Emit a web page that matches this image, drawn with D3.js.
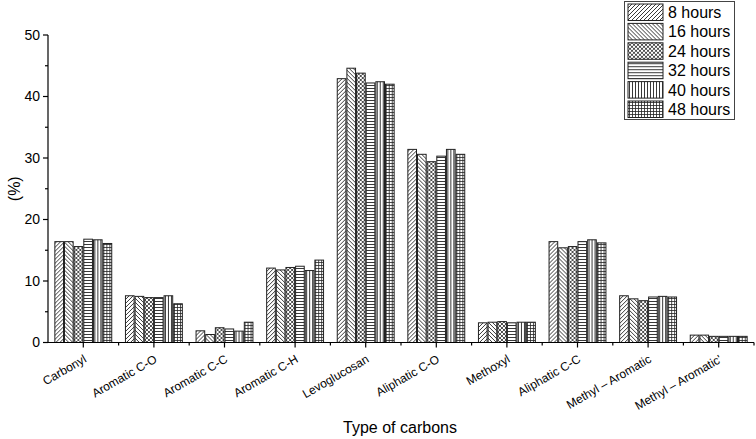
<!DOCTYPE html>
<html>
<head>
<meta charset="utf-8">
<script src="https://cdn.jsdelivr.net/npm/d3@7/dist/d3.min.js"></script>
<style>
  body { margin: 0; background: #fff; }
  svg { font-family: "Liberation Sans", Arial, sans-serif; }
</style>
</head>
<body>
<svg id="chart"></svg>
<script>
// 数据
const categories = ['Carbonyl', 'Aromatic C-O', 'Aromatic C-C', 'Aromatic C-H', 'Levoglucosan',
  'Aliphatic C-O', 'Methoxyl', 'Aliphatic C-C', 'Methyl \u2013 Aromatic', "Methyl \u2013 Aromatic'"];
const seriesNames = ['8 hours', '16 hours', '24 hours', '32 hours', '40 hours', '48 hours'];

const h8  = [16.4, 7.6, 1.9, 12.1, 42.9, 31.4, 3.2, 16.4, 7.6, 1.2];
const h16 = [16.4, 7.5, 1.3, 11.8, 44.6, 30.6, 3.3, 15.4, 7.1, 1.2];
const h24 = [15.6, 7.3, 2.4, 12.2, 43.8, 29.4, 3.4, 15.6, 6.8, 1.0];
const h32 = [16.8, 7.3, 2.2, 12.4, 42.2, 30.3, 3.2, 16.4, 7.4, 1.0];
const h40 = [16.7, 7.6, 1.85, 11.7, 42.4, 31.4, 3.3, 16.7, 7.5, 1.0];
const h48 = [16.1, 6.3, 3.3, 13.4, 42.0, 30.6, 3.3, 16.2, 7.4, 1.0];
const series = [h8, h16, h24, h32, h40, h48];

const yTicks = [0, 10, 20, 30, 40, 50];

const width = 756, height = 439;
const margin = { top: 35, right: 2, bottom: 96.5, left: 48 };

const svg = d3.select('#chart').attr('width', width).attr('height', height);

// 填充图案
const defs = svg.append('defs');
const ink = '#222';
function pattern(id, size, paths, sw) {
  const p = defs.append('pattern')
    .attr('id', id)
    .attr('patternUnits', 'userSpaceOnUse')
    .attr('width', size).attr('height', size);
  p.append('rect').attr('width', size).attr('height', size).attr('fill', '#fff');
  paths.forEach(d => p.append('path').attr('d', d)
    .attr('stroke', ink).attr('stroke-width', sw).attr('fill', 'none'));
}
pattern('p0', 4, ['M-1,1 L1,-1 M0,4 L4,0 M3,5 L5,3'], 0.9);
pattern('p1', 4, ['M-1,3 L1,5 M0,0 L4,4 M3,-1 L5,1'], 0.9);
pattern('p2', 4, ['M-1,1 L1,-1 M0,4 L4,0 M3,5 L5,3', 'M-1,3 L1,5 M0,0 L4,4 M3,-1 L5,1'], 0.8);
pattern('p3', 3, ['M0,1.5 L3,1.5'], 0.9);
pattern('p4', 3, ['M1.5,0 L1.5,3'], 0.9);
pattern('p5', 3, ['M0,1.5 L3,1.5', 'M1.5,0 L1.5,3'], 0.8);

// 比例尺
const x0 = d3.scaleBand()
  .domain(categories)
  .range([margin.left, width - margin.right])
  .paddingInner(0.18)
  .paddingOuter(0.09);
const x1 = d3.scaleBand()
  .domain(d3.range(series.length))
  .range([0, x0.bandwidth()]);
const y = d3.scaleLinear().domain([0, 50]).range([height - margin.bottom, margin.top]);

// 柱子
const groups = svg.append('g').selectAll('g')
  .data(categories)
  .join('g')
  .attr('transform', d => `translate(${x0(d)},0)`);

groups.selectAll('rect')
  .data((c, i) => series.map((s, k) => ({ k, v: s[i] })))
  .join('rect')
  .attr('x', d => x1(d.k) + 0.5)
  .attr('y', d => y(d.v))
  .attr('width', x1.bandwidth() - 1)
  .attr('height', d => y(0) - y(d.v))
  .attr('fill', d => `url(#p${d.k})`)
  .attr('stroke', ink)
  .attr('stroke-width', 1);

// 坐标轴
const axisG = svg.append('g').attr('stroke', '#000').attr('stroke-width', 1.2);
const y0 = y(0);
axisG.append('line').attr('x1', margin.left).attr('x2', width - margin.right)
  .attr('y1', y0).attr('y2', y0);
axisG.append('line').attr('x1', margin.left).attr('x2', margin.left)
  .attr('y1', y0).attr('y2', y(50));

// x 轴刻度
const step = x0.step();
categories.forEach((c, i) => {
  const cx = x0(c) + x0.bandwidth() / 2;
  axisG.append('line').attr('x1', cx).attr('x2', cx).attr('y1', y0).attr('y2', y0 + 5);
  const bx = margin.left + step * (i + 1);
  axisG.append('line').attr('x1', bx).attr('x2', bx).attr('y1', y0).attr('y2', y0 + 3);
});

// y 轴刻度
yTicks.forEach(t => {
  axisG.append('line').attr('x1', margin.left - 5).attr('x2', margin.left)
    .attr('y1', y(t)).attr('y2', y(t));
  if (t < 50) {
    axisG.append('line').attr('x1', margin.left - 3).attr('x2', margin.left)
      .attr('y1', y(t + 5)).attr('y2', y(t + 5));
  }
});
svg.append('g').selectAll('text')
  .data(yTicks)
  .join('text')
  .attr('x', margin.left - 8)
  .attr('y', d => y(d))
  .attr('dy', '0.35em')
  .attr('text-anchor', 'end')
  .attr('font-size', 14)
  .text(d => d);

// x 轴标签
svg.append('g').selectAll('text')
  .data(categories)
  .join('text')
  .attr('transform', d => `translate(${x0(d) + x0.bandwidth() / 2 + 4},${y0 + 19}) rotate(-30)`)
  .attr('text-anchor', 'end')
  .attr('font-size', 12)
  .text(d => d);

// 轴标题
svg.append('text')
  .attr('x', 400)
  .attr('y', 433)
  .attr('text-anchor', 'middle')
  .attr('font-size', 16)
  .text('Type of carbons');
svg.append('text')
  .attr('transform', `translate(20,${(y(0) + y(50)) / 2}) rotate(-90)`)
  .attr('text-anchor', 'middle')
  .attr('font-size', 16)
  .text('(%)');

// 图例
const legend = svg.append('g');
legend.append('rect')
  .attr('x', 624.5).attr('y', 1.5)
  .attr('width', 110).attr('height', 118)
  .attr('fill', '#fff').attr('stroke', '#444').attr('stroke-width', 1);
const li = legend.selectAll('g.item')
  .data(seriesNames)
  .join('g')
  .attr('class', 'item')
  .attr('transform', (d, i) => `translate(628,${4 + i * 19.4})`);
li.append('rect')
  .attr('width', 35).attr('height', 16.5)
  .attr('fill', (d, i) => `url(#p${i})`)
  .attr('stroke', ink).attr('stroke-width', 1);
li.append('text')
  .attr('x', 40).attr('y', 8.5)
  .attr('dy', '0.35em')
  .attr('font-size', 16)
  .text(d => d);
</script>
</body>
</html>
